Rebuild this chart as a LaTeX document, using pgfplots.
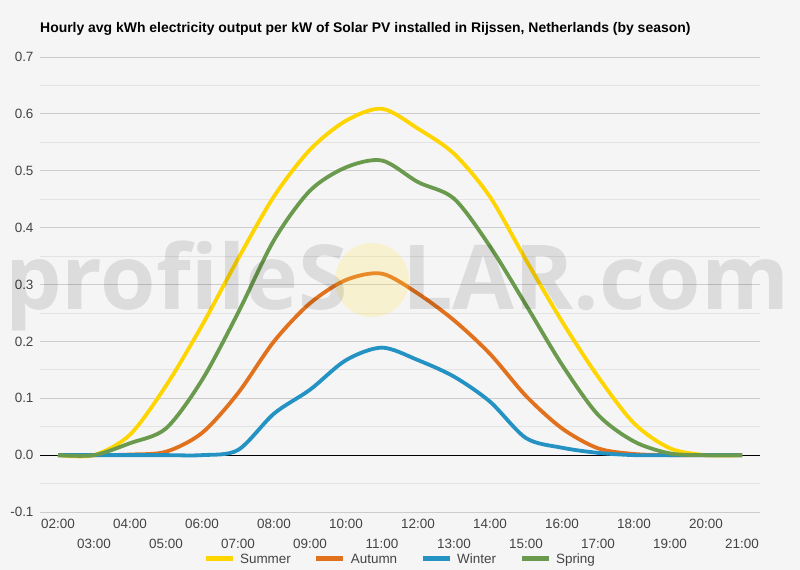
\documentclass[border=0pt]{standalone}
\usepackage{pgfplots}
\pgfplotsset{compat=1.18}
\usepackage{fontspec}
\setmainfont{Liberation Sans}
\newfontfamily\wmfont{Open Sans}
\definecolor{bg}{HTML}{F5F5F5}
\definecolor{summer}{HTML}{FFD500}
\definecolor{autumn}{HTML}{E2711D}
\definecolor{winter}{HTML}{2492C2}
\definecolor{spring}{HTML}{6A9A4D}
\definecolor{gridc}{HTML}{CCCCCC}
\definecolor{mgridc}{HTML}{E3E3E3}
\definecolor{txt}{HTML}{444444}
\definecolor{sun}{HTML}{FFE34D}

\pgfplotstableread{
h summer autumn winter spring
2 0.000 0.000 0.000 0.000
3 0.000 0.000 0.000 0.000
4 0.036 0.001 0.000 0.021
5 0.122 0.006 0.000 0.047
6 0.228 0.039 0.000 0.132
7 0.345 0.109 0.009 0.250
8 0.455 0.200 0.073 0.378
9 0.537 0.267 0.115 0.465
10 0.588 0.308 0.167 0.506
11 0.609 0.319 0.189 0.518
12 0.574 0.284 0.167 0.480
13 0.530 0.237 0.138 0.451
14 0.454 0.178 0.094 0.367
15 0.343 0.104 0.030 0.264
16 0.235 0.047 0.013 0.159
17 0.138 0.012 0.004 0.071
18 0.056 0.002 0.000 0.024
19 0.012 0.000 0.000 0.003
20 0.000 0.000 0.000 0.000
21 0.000 0.000 0.000 0.000
}\datatable

\begin{document}
\begin{tikzpicture}
\fill[bg] (0,0) rectangle (800bp,570bp);
\useasboundingbox (0,0) rectangle (800bp,570bp);
\node[anchor=base west, inner sep=0pt, font=\fontsize{14}{16}\selectfont\bfseries] at (40bp,537bp)
  {Hourly avg kWh electricity output per kW of Solar PV installed in Rijssen, Netherlands (by season)};
\begin{axis}[
  at={(40bp,58bp)}, anchor=south west,
  scale only axis, width=720bp, height=455bp,
  xmin=1.5, xmax=21.5, ymin=-0.1, ymax=0.7,
  axis line style={draw=none},
  major tick length=0pt, minor tick length=0pt,
  ytick={-0.1,0,0.1,0.2,0.3,0.4,0.5,0.6,0.7},
  yticklabels={-0.1,0.0,0.1,0.2,0.3,0.4,0.5,0.6,0.7},
  minor y tick num=1,
  ymajorgrids, yminorgrids,
  major grid style={gridc, line width=0.8bp},
  minor grid style={mgridc, line width=0.8bp},
  xtick={2,4,...,20},
  xticklabels={02:00,04:00,06:00,08:00,10:00,12:00,14:00,16:00,18:00,20:00},
  extra x ticks={3,5,...,21},
  extra x tick labels={03:00,05:00,07:00,09:00,11:00,13:00,15:00,17:00,19:00,21:00},
  extra x tick style={tick label style={yshift=-19.5bp}, grid=none},
  tick label style={font=\fontsize{13.5}{15}\selectfont, text=txt},
  xticklabel style={yshift=-4bp},
  yticklabel style={xshift=-3bp},
  legend columns=4,
  legend style={at={(0.5,0)}, anchor=center, yshift=-47.5bp, draw=none, fill=none,
    font=\fontsize{13.5}{15}\selectfont, text=txt,
    /tikz/every odd column/.append style={column sep=3bp},
    /tikz/every even column/.append style={column sep=21bp}},
  legend image code/.code={\draw[#1, line width=5bp] (0bp,1bp) -- (27bp,1bp);},
  every axis plot/.append style={line width=3.8bp, smooth, tension=0.5},
]
\addplot[black, line width=0.8bp, forget plot, sharp plot] coordinates {(1.5,0) (21.5,0)};
\addplot[summer] table[x=h, y=summer] {\datatable};
\addlegendentry{Summer}
\addplot[autumn] table[x=h, y=autumn] {\datatable};
\addlegendentry{Autumn}
\addplot[winter] table[x=h, y=winter] {\datatable};
\addlegendentry{Winter}
\addplot[spring] table[x=h, y=spring] {\datatable};
\addlegendentry{Spring}
\end{axis}
\fill[sun, opacity=0.22] (372bp,290bp) circle (37bp);
\node[anchor=base west, inner sep=0pt, text=black, opacity=0.1, font=\wmfont\bfseries\fontsize{90}{94}\selectfont] at (5bp,260bp) {profileS};
\node[anchor=base west, inner sep=0pt, text=black, opacity=0.1, font=\wmfont\bfseries\fontsize{90}{94}\selectfont] at (402bp,260bp) {LAR.com};
\end{tikzpicture}
\end{document}
